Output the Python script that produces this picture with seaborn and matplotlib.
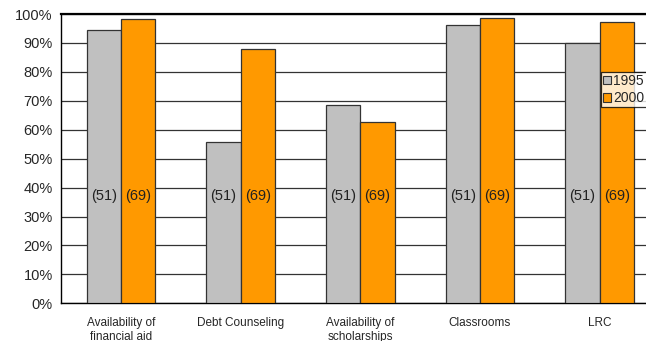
import matplotlib
matplotlib.use("Agg")
import matplotlib.pyplot as plt
import seaborn as sns
import pandas as pd

categories = ["Availability of\nfinancial aid", "Debt Counseling",
              "Availability of\nscholarships", "Classrooms", "LRC"]
years = ["1995", "2000"]
values_1995 = [94.4, 55.9, 68.4, 96.2, 90.0]
values_2000 = [98.4, 87.8, 62.7, 98.5, 97.1]
counts = {"1995": "(51)", "2000": "(69)"}
yticks = list(range(0, 101, 10))
colors = {"1995": "#C0C0C0", "2000": "#FF9900"}

df = pd.DataFrame({
    "category": categories * 2,
    "year": [years[0]] * len(categories) + [years[1]] * len(categories),
    "value": values_1995 + values_2000,
})

sns.set_style("white")
plt.rcParams["font.family"] = ["Liberation Sans", "DejaVu Sans"]

W, H = 646, 341
fig = plt.figure(figsize=(W / 100, H / 100), dpi=100)
left, right, top, bottom = 61, 659.5, 14, 303.3
ax = fig.add_axes([left / W, (H - bottom) / H, (right - left) / W, (bottom - top) / H])

sns.barplot(data=df, x="category", y="value", hue="year", order=categories,
            hue_order=years, palette=colors, width=0.573, gap=0,
            edgecolor="#333333", linewidth=0.9, saturation=1, ax=ax,
            legend=True, zorder=3)

# count labels inside the bars
for cont, yr in zip(ax.containers, years):
    for bar in cont:
        ax.text(bar.get_x() + bar.get_width() / 2, 37, counts[yr],
                ha="center", va="center", fontsize=10.5, color="#222222", zorder=4)

ax.set_ylim(0, 100)
ax.set_xlim(-0.5, len(categories) - 0.5)
ax.set_yticks(yticks)
ax.set_yticklabels([f"{v}%" for v in yticks], fontsize=10.5)
ax.yaxis.grid(True, color="#333333", linewidth=0.9, zorder=0)
ax.set_axisbelow(True)
ax.set_xlabel("")
ax.set_ylabel("")

ax.set_xticks(range(len(categories)))
ax.set_xticklabels(categories, fontsize=8.5, linespacing=1.15)
ax.tick_params(axis="x", which="major", length=0, pad=10)
ax.set_xticks([i - 0.5 for i in range(len(categories) + 1)], minor=True)
ax.tick_params(axis="x", which="minor", length=4, width=0.9, direction="out", color="black")
ax.tick_params(axis="y", length=4, width=0.9, direction="out", color="black", pad=2)

for side in ["left", "bottom"]:
    ax.spines[side].set_color("black")
    ax.spines[side].set_linewidth(1.0)
ax.spines["top"].set_color("black")
ax.spines["top"].set_linewidth(1.6)
ax.spines["right"].set_visible(False)

leg = ax.legend(loc="upper left", bbox_to_anchor=(0.902, 0.80), frameon=True,
                fancybox=False, fontsize=10, handlelength=0.55, handleheight=0.55,
                handletextpad=0.2, borderpad=0.15, labelspacing=0.25,
                borderaxespad=0)
leg.get_frame().set_edgecolor("black")
leg.get_frame().set_linewidth(0.9)
for h in leg.legend_handles:
    h.set_edgecolor("#333333")
    h.set_linewidth(0.8)

fig.savefig("out.png", dpi=100)
